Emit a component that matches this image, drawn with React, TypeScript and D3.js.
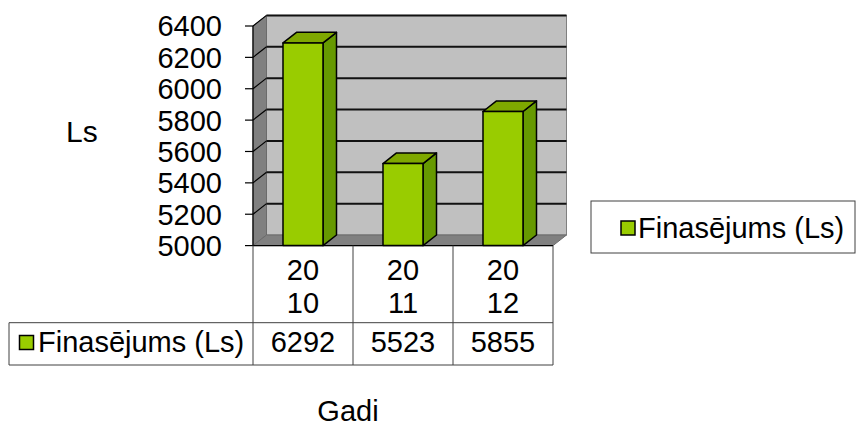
import React from "react";
import * as d3 from "d3";

const categories = ["2010", "2011", "2012"];
const values = [6292, 5523, 5855];
const seriesName = "Finasējums (Ls)";
const yTicks = [5000, 5200, 5400, 5600, 5800, 6000, 6200, 6400];
const yTitle = "Ls";
const xTitle = "Gadi";

const W = 856;
const H = 428;
const FONT = "'Liberation Sans', Arial, sans-serif";

export default function App() {
  const x0 = 253;
  const x1 = 553;
  const dx = 13.5;
  const dy = -10.6;
  const y = d3.scaleLinear().domain([5000, 6400]).range([245.6, 26]);
  const x = d3.scaleBand().domain(categories).range([x0, x1]).paddingInner(0).paddingOuter(0);
  const barW = x.bandwidth() * 0.4;
  const yb = y(5000);
  const tableTop = yb;
  const headerBottom = 322.7;
  const tableBottom = 365;
  const tableLeft = 9;

  const front = "#99cc00";
  const side = "#669900";
  const top = "#7fa800";

  return (
    <svg
      width={W}
      height={H}
      style={{ position: "absolute", left: 0, top: 0, background: "#fff" }}
      fontFamily={FONT}
    >
      {/* back wall */}
      <rect x={x0 + dx} y={y(6400) + dy} width={x1 - x0} height={yb - y(6400)} fill="#c0c0c0" stroke="#808080" strokeWidth={1} />
      {/* side wall */}
      <polygon
        points={`${x0},${yb} ${x0},${y(6400)} ${x0 + dx},${y(6400) + dy} ${x0 + dx},${yb + dy}`}
        fill="#808080"
        stroke="#6b6b6b"
        strokeWidth={1}
      />
      {/* floor */}
      <polygon
        points={`${x0},${yb} ${x1},${yb} ${x1 + dx},${yb + dy} ${x0 + dx},${yb + dy}`}
        fill="#808080"
        stroke="#6b6b6b"
        strokeWidth={1}
      />
      {/* gridlines */}
      {yTicks.slice(1).map((t) => (
        <g key={t}>
          <line x1={x0} y1={y(t)} x2={x0 + dx} y2={y(t) + dy} stroke="#000" strokeWidth={1.2} />
          <line x1={x0 + dx} y1={y(t) + dy} x2={x1 + dx} y2={y(t) + dy} stroke="#111" strokeWidth={2} />
        </g>
      ))}
      {/* bars */}
      {categories.map((c, i) => {
        const bx = (x(c) as number) + (x.bandwidth() - barW) / 2;
        const by = y(values[i]);
        return (
          <g key={c} stroke="#000" strokeWidth={1.5} strokeLinejoin="round">
            <polygon points={`${bx + barW},${yb} ${bx + barW},${by} ${bx + barW + dx},${by + dy} ${bx + barW + dx},${yb + dy}`} fill={side} />
            <polygon points={`${bx},${by} ${bx + barW},${by} ${bx + barW + dx},${by + dy} ${bx + dx},${by + dy}`} fill={top} />
            <rect x={bx} y={by} width={barW} height={yb - by} fill={front} />
          </g>
        );
      })}
      {/* axis line + ticks */}
      <line x1={x0} y1={y(6400)} x2={x0} y2={yb} stroke="#000" strokeWidth={1.2} />
      {yTicks.map((t) => (
        <g key={t}>
          <line x1={x0 - 8} y1={y(t)} x2={x0} y2={y(t)} stroke="#000" strokeWidth={1.2} />
          <text x={222} y={y(t)} dy="0.36em" textAnchor="end" fontSize={29} fill="#000">
            {t}
          </text>
        </g>
      ))}
      {/* floor front edge */}
      <line x1={x0} y1={yb} x2={x1} y2={yb} stroke="#000" strokeWidth={1.2} />

      {/* data table */}
      <g stroke="#404040" strokeWidth={1}>
        {[...categories.map((c) => x(c) as number), x1].map((lx, i) => (
          <line key={i} x1={lx} y1={tableTop} x2={lx} y2={tableBottom} />
        ))}
        <line x1={tableLeft} y1={headerBottom} x2={x1} y2={headerBottom} />
        <line x1={tableLeft} y1={tableBottom} x2={x1} y2={tableBottom} />
        <line x1={tableLeft} y1={headerBottom} x2={tableLeft} y2={tableBottom} />
      </g>
      {categories.map((c, i) => {
        const cx = (x(c) as number) + x.bandwidth() / 2;
        return (
          <g key={c} fontSize={29} textAnchor="middle" fill="#000">
            <text x={cx} y={280}>{c.slice(0, 2)}</text>
            <text x={cx} y={313}>{c.slice(2)}</text>
            <text x={cx} y={352}>{values[i]}</text>
          </g>
        );
      })}
      <rect x={19.5} y={335.5} width={14} height={14} fill={front} stroke="#000" strokeWidth={1.5} />
      <text x={38} y={352} fontSize={29} fill="#000">{seriesName}</text>

      {/* legend */}
      <rect x={591} y={201} width={264} height={52} fill="#fff" stroke="#404040" strokeWidth={1} />
      <rect x={621} y={221} width={14} height={14} fill={front} stroke="#000" strokeWidth={1.5} />
      <text x={638} y={238} fontSize={29} fill="#000">{seriesName}</text>

      {/* axis titles */}
      <text x={66} y={142} fontSize={30} fill="#000">{yTitle}</text>
      <text x={348} y={421} fontSize={29} textAnchor="middle" fill="#000">{xTitle}</text>
    </svg>
  );
}
